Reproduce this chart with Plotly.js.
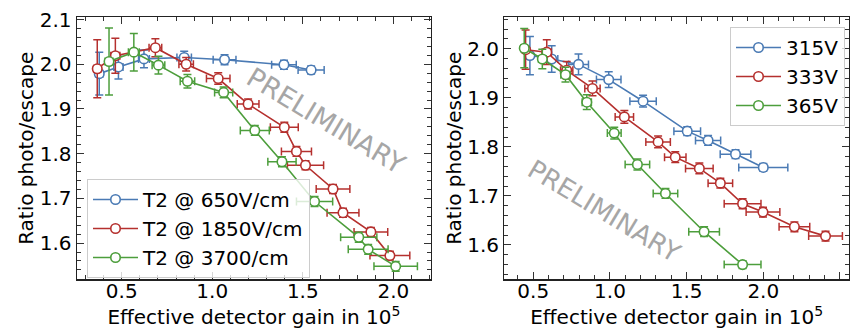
<!DOCTYPE html>
<html>
<head>
<meta charset="utf-8">
<script src="https://cdn.plot.ly/plotly-3.0.1.min.js"></script>
<style>html,body{margin:0;padding:0;background:#fff;}#chart{width:851px;height:329px;}</style>
</head>
<body>
<div id="chart"></div>
<script>
// ---- Left panel: field scan ----
const leftNames = ["T2 @ 650V/cm", "T2 @ 1850V/cm", "T2 @ 3700/cm"];
const l650_x    = [0.376, 0.482, 0.623, 0.845, 1.068, 1.396, 1.546];
const l650_y    = [1.979, 1.994, 2.012, 2.015, 2.010, 1.999, 1.987];
const l650_xerr = [0.020, 0.025, 0.030, 0.040, 0.063, 0.068, 0.072];
const l650_yerr = [0.048, 0.027, 0.020, 0.014, 0.011, 0.010, 0.009];

const l1850_x    = [0.365, 0.465, 0.686, 0.856, 1.033, 1.198, 1.398, 1.465, 1.515, 1.667, 1.722, 1.876, 1.981];
const l1850_y    = [1.990, 2.019, 2.037, 2.000, 1.968, 1.911, 1.859, 1.805, 1.774, 1.721, 1.668, 1.625, 1.572];
const l1850_xerr = [0.020, 0.025, 0.035, 0.040, 0.065, 0.060, 0.077, 0.083, 0.100, 0.093, 0.088, 0.093, 0.110];
const l1850_yerr = [0.065, 0.039, 0.020, 0.015, 0.013, 0.011, 0.011, 0.011, 0.010, 0.010, 0.010, 0.010, 0.010];

const l3700_x    = [0.430, 0.567, 0.703, 0.863, 1.063, 1.235, 1.385, 1.565, 1.809, 1.861, 2.013];
const l3700_y    = [2.006, 2.027, 1.998, 1.962, 1.937, 1.852, 1.782, 1.693, 1.613, 1.586, 1.548];
const l3700_xerr = [0.022, 0.030, 0.035, 0.040, 0.050, 0.080, 0.078, 0.100, 0.100, 0.110, 0.120];
const l3700_yerr = [0.075, 0.042, 0.020, 0.015, 0.012, 0.011, 0.011, 0.011, 0.011, 0.011, 0.011];

// ---- Right panel: voltage scan ----
const rightNames = ["315V", "333V", "365V"];
const r315_x    = [0.478, 0.620, 0.795, 0.992, 1.216, 1.504, 1.640, 1.819, 2.000];
const r315_y    = [1.986, 1.979, 1.968, 1.937, 1.893, 1.832, 1.813, 1.785, 1.758];
const r315_xerr = [0.020, 0.040, 0.065, 0.080, 0.086, 0.087, 0.082, 0.100, 0.160];
const r315_yerr = [0.039, 0.027, 0.021, 0.016, 0.012, 0.009, 0.010, 0.009, 0.008];

const r333_x    = [0.450, 0.588, 0.718, 0.886, 1.094, 1.314, 1.426, 1.583, 1.720, 1.865, 1.998, 2.203, 2.406];
const r333_y    = [1.998, 1.993, 1.956, 1.919, 1.861, 1.810, 1.779, 1.756, 1.726, 1.684, 1.667, 1.637, 1.618];
const r333_xerr = [0.020, 0.030, 0.040, 0.050, 0.060, 0.080, 0.070, 0.090, 0.080, 0.120, 0.110, 0.100, 0.110];
const r333_yerr = [0.040, 0.025, 0.018, 0.015, 0.013, 0.012, 0.011, 0.011, 0.010, 0.010, 0.010, 0.010, 0.010];

const r365_x    = [0.441, 0.559, 0.710, 0.849, 1.028, 1.179, 1.362, 1.614, 1.865];
const r365_y    = [2.001, 1.979, 1.947, 1.891, 1.828, 1.764, 1.705, 1.627, 1.560];
const r365_xerr = [0.020, 0.025, 0.030, 0.030, 0.045, 0.080, 0.080, 0.100, 0.120];
const r365_yerr = [0.040, 0.020, 0.015, 0.015, 0.012, 0.011, 0.010, 0.010, 0.008];

const xTicks = [0.5, 1.0, 1.5, 2.0, 2.5];
const xTickText = ["0.5", "1.0", "1.5", "2.0", "2.5"];
const yTicks = [1.6, 1.7, 1.8, 1.9, 2.0, 2.1];
const yTickText = ["1.6", "1.7", "1.8", "1.9", "2.0", "2.1"];
const xTitle = "Effective detector gain in 10<sup>5</sup>";
const yTitle = "Ratio photo/escape";
const watermark = "PRELIMINARY";

const BLUE = "#4a7ab4", RED = "#b5302e", GREEN = "#4d9e3c";
const FONT = "DejaVu Sans, Liberation Sans, sans-serif";
const FS = 20;

function series(x, y, xe, ye, name, color, xa, ya, legend) {
  return {
    type: "scatter", mode: "lines+markers", name: name,
    x: x, y: y, xaxis: xa, yaxis: ya, legend: legend,
    line: {color: color, width: 1.6},
    marker: {symbol: "circle", size: 9.5, color: "#ffffff", line: {color: color, width: 1.6}},
    error_x: {type: "data", array: xe, visible: true, color: color, thickness: 1.5, width: 4},
    error_y: {type: "data", array: ye, visible: true, color: color, thickness: 1.5, width: 4}
  };
}

const data = [
  series(l650_x, l650_y, l650_xerr, l650_yerr, leftNames[0], BLUE, "x", "y", "legend"),
  series(l1850_x, l1850_y, l1850_xerr, l1850_yerr, leftNames[1], RED, "x", "y", "legend"),
  series(l3700_x, l3700_y, l3700_xerr, l3700_yerr, leftNames[2], GREEN, "x", "y", "legend"),
  series(r315_x, r315_y, r315_xerr, r315_yerr, rightNames[0], BLUE, "x2", "y2", "legend2"),
  series(r333_x, r333_y, r333_xerr, r333_yerr, rightNames[1], RED, "x2", "y2", "legend2"),
  series(r365_x, r365_y, r365_xerr, r365_yerr, rightNames[2], GREEN, "x2", "y2", "legend2")
];

function xaxis(domain, range, anchor) {
  return {
    domain: domain, range: range, anchor: anchor,
    showline: true, linecolor: "#222", linewidth: 1.2, mirror: "allticks",
    ticks: "inside", ticklen: 7, tickwidth: 1, tickcolor: "#333",
    tickvals: xTicks, ticktext: xTickText, ticklabelstandoff: -7,
    minor: {ticks: "inside", dtick: 0.1, tick0: 0, ticklen: 4, tickwidth: 1, tickcolor: "#333", showgrid: false},
    showgrid: false, zeroline: false,
    tickfont: {family: FONT, size: FS, color: "#000"},
    title: {text: xTitle, font: {family: FONT, size: FS, color: "#000"}, standoff: 9}
  };
}
function yaxis(domain, range, anchor) {
  return {
    domain: domain, range: range, anchor: anchor,
    showline: true, linecolor: "#222", linewidth: 1.2, mirror: "allticks",
    ticks: "inside", ticklen: 7, tickwidth: 1, tickcolor: "#333",
    tickvals: yTicks, ticktext: yTickText,
    minor: {ticks: "inside", dtick: 0.02, tick0: 0, ticklen: 4, tickwidth: 1, tickcolor: "#333", showgrid: false},
    showgrid: false, zeroline: false,
    tickfont: {family: FONT, size: FS, color: "#000"},
    title: {text: yTitle, font: {family: FONT, size: FS, color: "#000"}, standoff: 0}
  };
}

const W = 851, H = 329;
const yDom = [1 - 279.3 / H, 1 - 17.3 / H];

const layout = {
  width: W, height: H,
  margin: {l: 0, r: 0, t: 0, b: 0},
  paper_bgcolor: "#fff", plot_bgcolor: "#fff",
  font: {family: FONT, size: FS, color: "#000"},
  xaxis: xaxis([76.7 / W, 431 / W], [0.2515, 2.208], "y"),
  yaxis: yaxis(yDom, [1.519, 2.105], "x"),
  xaxis2: xaxis([504.3 / W, 849 / W], [0.311, 2.559], "y2"),
  yaxis2: yaxis(yDom, [1.530, 2.064], "x2"),
  legend: {
    x: 87 / W, y: 1 - 179 / H, xanchor: "left", yanchor: "top",
    bgcolor: "rgba(255,255,255,0.8)", bordercolor: "#cccccc", borderwidth: 1,
    font: {family: FONT, size: FS, color: "#000"}, itemwidth: 45, tracegroupgap: 0
  },
  legend2: {
    x: 730 / W, y: 1 - 27 / H, xanchor: "left", yanchor: "top",
    bgcolor: "rgba(255,255,255,0.8)", bordercolor: "#cccccc", borderwidth: 1,
    font: {family: FONT, size: FS, color: "#000"}, itemwidth: 45, tracegroupgap: 0
  },
  showlegend: true,
  annotations: [
    {text: watermark, xref: "paper", yref: "paper", x: 326 / W, y: 1 - 120 / H,
     xanchor: "center", yanchor: "middle", showarrow: false, textangle: 31,
     font: {family: FONT, size: 27, color: "#a6a6a6"}},
    {text: watermark, xref: "paper", yref: "paper", x: 604 / W, y: 1 - 211 / H,
     xanchor: "center", yanchor: "middle", showarrow: false, textangle: 31,
     font: {family: FONT, size: 26, color: "#a6a6a6"}}
  ]
};

Plotly.newPlot("chart", data, layout, {displayModeBar: false, staticPlot: true});
</script>
</body>
</html>
